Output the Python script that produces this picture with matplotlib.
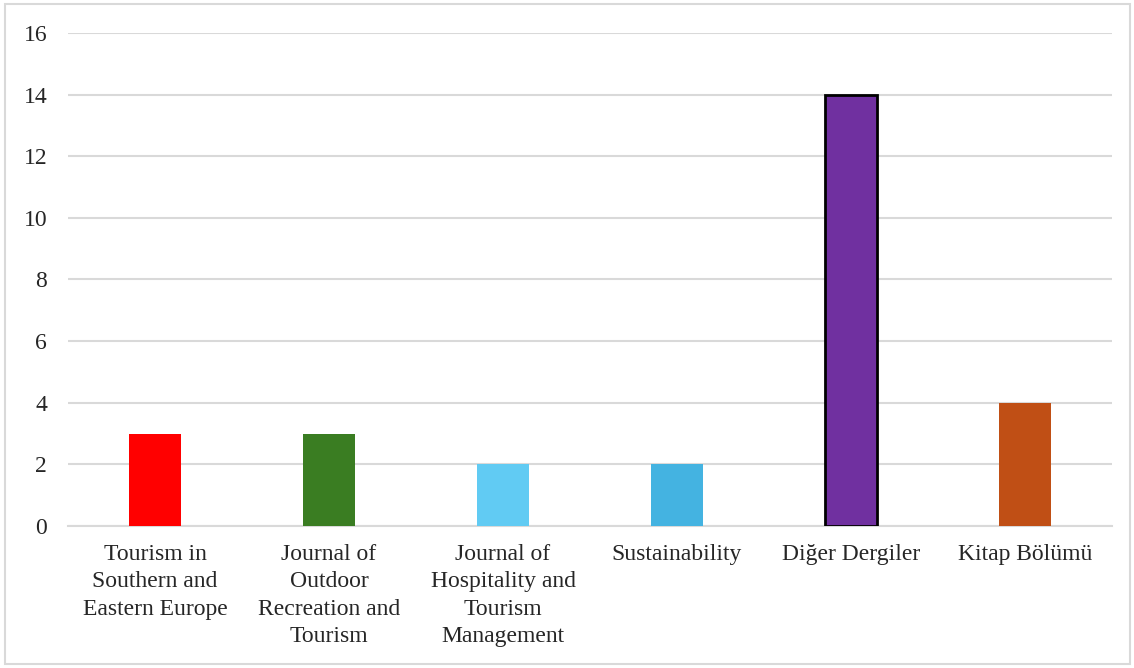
import matplotlib.pyplot as plt
from matplotlib.patches import Rectangle

plt.rcParams['font.family'] = ['Liberation Serif', 'DejaVu Serif']

categories = ["Tourism in\nSouthern and\nEastern Europe",
              "Journal of\nOutdoor\nRecreation and\nTourism",
              "Journal of\nHospitality and\nTourism\nManagement",
              "Sustainability",
              "Diğer Dergiler",
              "Kitap Bölümü"]
values = [3, 3, 2, 2, 14, 4]
colors = ["#FF0000", "#3A7D22", "#61CBF3", "#44B3E1", "#7030A0", "#C04F15"]
edges = ["none", "none", "none", "none", "black", "none"]

fig = plt.figure(figsize=(11.34, 6.68), dpi=100)
ax = fig.add_axes([0.06, 0.2126, 0.9206, 0.738])

x = range(len(categories))
ax.bar(x, values, width=0.3, color=colors, edgecolor=edges, linewidth=2, zorder=3)

ax.set_xlim(-0.5, len(categories) - 0.5)
ax.set_ylim(0, 16)
ax.set_yticks(range(0, 17, 2))
ax.set_xticks(list(x))
ax.set_xticklabels(categories, fontsize=17, color="#262626", linespacing=1.4, va="top")
ax.tick_params(axis="y", labelsize=17, labelcolor="#262626", length=0, pad=15)
ax.tick_params(axis="x", length=0, pad=13)
ax.grid(axis="y", color="#D9D9D9", linewidth=1.5, zorder=0)
for s in ["left", "right", "top"]:
    ax.spines[s].set_visible(False)
ax.spines["bottom"].set_color("#D9D9D9")
ax.spines["bottom"].set_linewidth(1.5)

fig.patches.append(Rectangle((5 / 1134, 4 / 668), 1125 / 1134, 660 / 668,
                             transform=fig.transFigure, fill=False,
                             edgecolor="#D9D9D9", linewidth=1.5))

fig.savefig("out.png", dpi=100)
